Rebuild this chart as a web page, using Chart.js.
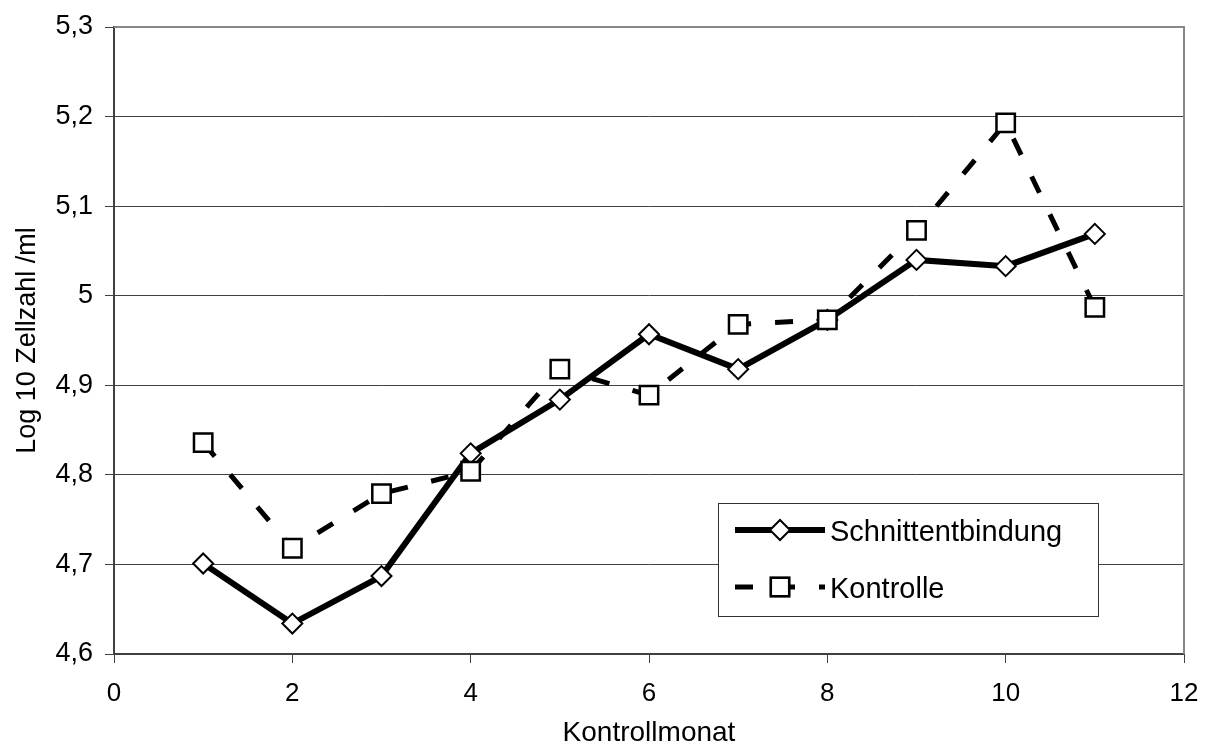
<!DOCTYPE html>
<html>
<head>
<meta charset="utf-8">
<script src="https://cdn.jsdelivr.net/npm/chart.js@4/dist/chart.umd.min.js"></script>
<style>
  html, body { margin: 0; padding: 0; background: #fff; }
  canvas { display: block; }
</style>
</head>
<body>
<canvas id="chart" width="1205" height="747"></canvas>
<script>
// Kontrollmonat 1..11
const months = [1, 2, 3, 4, 5, 6, 7, 8, 9, 10, 11];
const schnittentbindung = [4.701, 4.634, 4.687, 4.824, 4.884, 4.957, 4.918, 4.973, 5.040, 5.033, 5.069];
const kontrolle = [4.836, 4.718, 4.779, 4.804, 4.918, 4.889, 4.968, 4.973, 5.073, 5.193, 4.987];
const seriesNames = ['Schnittentbindung', 'Kontrolle'];

const FONT = 'Arial, "Liberation Sans", sans-serif';
const AXIS_COLOR = '#404040';

const toPoints = (vals) => vals.map((v, i) => ({ x: months[i], y: v }));

// German decimal comma for the y ticks
const fmt = (v) => String(Math.round(v * 10) / 10).replace('.', ',');

// grey frame on top and right of the plot area
const plotFrame = {
    id: 'plotFrame',
    beforeDatasetsDraw(chart) {
        const { ctx, chartArea: a } = chart;
        ctx.save();
        ctx.strokeStyle = '#888';
        ctx.lineWidth = 2;
        ctx.beginPath();
        ctx.moveTo(a.left, a.top);
        ctx.lineTo(a.right, a.top);
        ctx.lineTo(a.right, a.bottom);
        ctx.stroke();
        ctx.restore();
    }
};

// legend box inside the plot, like the original
const boxLegend = {
    id: 'boxLegend',
    afterDraw(chart, args, opts) {
        const { ctx } = chart;
        const b = opts.box;
        ctx.save();
        ctx.fillStyle = '#fff';
        ctx.fillRect(b.left, b.top, b.right - b.left, b.bottom - b.top);
        ctx.strokeStyle = '#333';
        ctx.lineWidth = 1;
        ctx.strokeRect(b.left + 0.5, b.top + 0.5, b.right - b.left, b.bottom - b.top);

        chart.data.datasets.forEach((ds, i) => {
            const y = opts.rows[i];
            ctx.save();
            ctx.strokeStyle = ds.borderColor;
            ctx.lineWidth = ds.borderWidth;
            ctx.lineCap = 'butt';
            ctx.setLineDash(ds.borderDash || []);
            ctx.beginPath();
            ctx.moveTo(opts.lineStart, y);
            ctx.lineTo(opts.lineEnd, y);
            ctx.stroke();
            ctx.restore();

            Chart.helpers.drawPoint(ctx, {
                pointStyle: ds.pointStyle,
                radius: ds.pointRadius,
                borderWidth: ds.pointBorderWidth,
                rotation: 0
            }, (opts.lineStart + opts.lineEnd) / 2, y);
            ctx.fillStyle = ds.pointBackgroundColor;
            ctx.strokeStyle = ds.pointBorderColor;
            ctx.lineWidth = ds.pointBorderWidth;
            ctx.setLineDash([]);
            ctx.fill();
            ctx.stroke();

            ctx.fillStyle = '#000';
            ctx.font = opts.font;
            ctx.textBaseline = 'middle';
            ctx.textAlign = 'left';
            ctx.fillText(ds.label, opts.textX, y + 3);
        });
        ctx.restore();
    }
};

new Chart(document.getElementById('chart'), {
    type: 'line',
    data: {
        datasets: [{
            label: seriesNames[0],
            data: toPoints(schnittentbindung),
            borderColor: '#000',
            borderWidth: 6,
            pointStyle: 'rectRot',
            pointRadius: 10,
            pointBorderWidth: 2,
            pointBackgroundColor: '#fff',
            pointBorderColor: '#000',
            order: 1
        }, {
            label: seriesNames[1],
            data: toPoints(kontrolle),
            borderColor: '#000',
            borderWidth: 5,
            borderDash: [18, 24],
            borderCapStyle: 'butt',
            pointStyle: 'rect',
            pointRadius: 13,
            pointBorderWidth: 2.5,
            pointBackgroundColor: '#fff',
            pointBorderColor: '#000',
            order: 0
        }]
    },
    options: {
        responsive: false,
        animation: false,
        layout: { padding: { left: 0, right: 21, top: 27, bottom: 0 } },
        plugins: {
            legend: { display: false },
            tooltip: { enabled: false },
            boxLegend: {
                box: { left: 718, top: 503, right: 1098, bottom: 616 },
                rows: [530, 587],
                lineStart: 735,
                lineEnd: 825,
                textX: 830,
                font: '29px ' + FONT
            }
        },
        scales: {
            x: {
                type: 'linear',
                min: 0,
                max: 12,
                ticks: {
                    stepSize: 2,
                    color: '#000',
                    padding: 15,
                    font: { family: FONT, size: 26 }
                },
                grid: {
                    drawOnChartArea: false,
                    color: AXIS_COLOR,
                    tickLength: 9
                },
                border: { color: AXIS_COLOR, width: 2 },
                title: {
                    display: true,
                    text: 'Kontrollmonat',
                    color: '#000',
                    font: { family: FONT, size: 28, lineHeight: 1 },
                    padding: { top: 0, bottom: 0 }
                },
                afterFit(scale) {
                    scale.height = 93;
                    scale.paddingLeft = 0;
                    scale.paddingRight = 0;
                }
            },
            y: {
                min: 4.6,
                max: 5.3,
                ticks: {
                    stepSize: 0.1,
                    color: '#000',
                    padding: 12,
                    font: { family: FONT, size: 27 },
                    callback: (v) => fmt(v)
                },
                grid: {
                    color: AXIS_COLOR,
                    lineWidth: 1,
                    tickLength: 9
                },
                border: { color: AXIS_COLOR, width: 2 },
                title: {
                    display: true,
                    text: 'Log 10 Zellzahl /ml',
                    color: '#000',
                    font: { family: FONT, size: 27, lineHeight: 1.2 },
                    padding: { top: 11, bottom: 0 }
                },
                afterFit(scale) {
                    scale.width = 114;
                    scale.paddingTop = 0;
                    scale.paddingBottom = 0;
                }
            }
        }
    },
    plugins: [plotFrame, boxLegend]
});
</script>
</body>
</html>
